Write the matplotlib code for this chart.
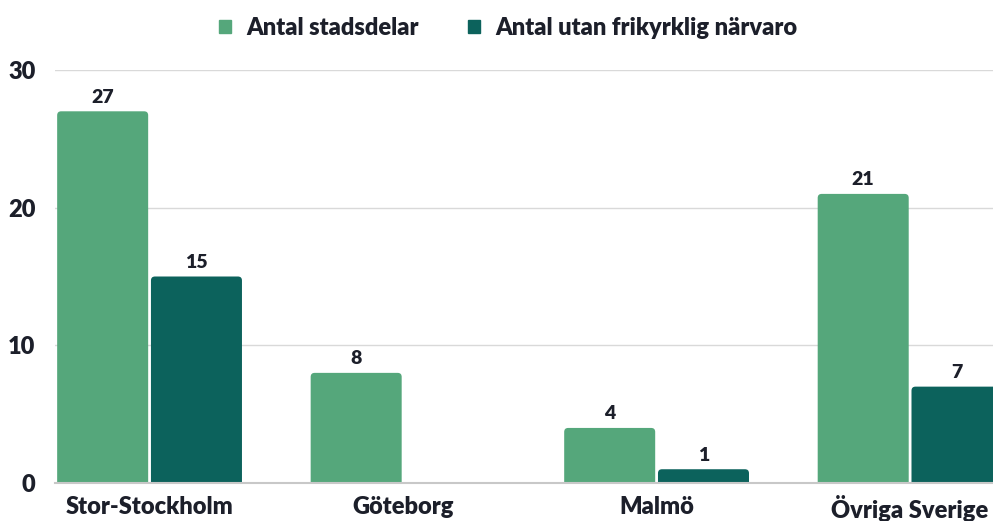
import numpy as np
import matplotlib.pyplot as plt
from matplotlib.patches import Patch, FancyBboxPatch

plt.rcParams["font.family"] = ["Lato", "DejaVu Sans"]
plt.rcParams["font.weight"] = "heavy"

regions = ["Stor-Stockholm", "Göteborg", "Malmö", "Övriga Sverige"]
antal_stadsdelar = [27, 8, 4, 21]
utan_frikyrka = [15, 0, 1, 7]
series_labels = ["Antal stadsdelar", "Antal utan frikyrklig närvaro"]
colors = ["#55a77b", "#0c625c"]
text_color = "#1c1f2a"
wt = "heavy"

fig = plt.figure(figsize=(9.93, 5.21), dpi=100)
ax = fig.add_axes([55 / 993, 38 / 521, 1 - 55 / 993, (483 - 70) / 521])

x = np.arange(len(regions))
w = 0.359
off = 0.185
# rounded tops: radius ~4px, x unit ~253.5px, y unit ~13.77px
rx = 4 / 253.5
aspect = (4 / 13.77) / rx
for vals, sign, c in zip([antal_stadsdelar, utan_frikyrka], [-1, 1], colors):
    for xi, v in zip(x, vals):
        if v == 0:
            continue
        x0 = xi + sign * off - w / 2
        ax.add_patch(FancyBboxPatch((x0, -1), w, v + 1,
                                    boxstyle=f"round,pad=0,rounding_size={rx}",
                                    mutation_aspect=aspect, fc=c, ec="none",
                                    zorder=3))
        ax.text(xi + sign * off, v + 0.4, str(v),
                ha="center", va="bottom", fontsize=14, fontweight=wt,
                color=text_color)

ax.set_xlim(-0.373, 3.327)
ax.set_ylim(0, 30)
ax.set_yticks([0, 10, 20, 30])
ax.yaxis.grid(True, color="#d9d9d9", lw=1, zorder=0)
ax.set_axisbelow(True)
for s in ["top", "right", "left"]:
    ax.spines[s].set_visible(False)
ax.spines["bottom"].set_color("#c8c8c8")
ax.spines["bottom"].set_linewidth(1.5)
ax.spines["bottom"].set_zorder(4)
ax.tick_params(length=0, labelsize=17, colors=text_color)
ax.tick_params(axis="y", pad=14)
ax.tick_params(axis="x", pad=9)
ax.set_xticks(x, labels=regions)
for lab in ax.get_xticklabels() + ax.get_yticklabels():
    lab.set_fontweight(wt)

handles = [Patch(color=c, label=l) for c, l in zip(colors, series_labels)]
leg = fig.legend(handles=handles, loc="center", bbox_to_anchor=(0.512, 0.947),
                 ncol=2, frameon=False, fontsize=17, handlelength=0.5,
                 handleheight=0.5, columnspacing=2.1, handletextpad=0.65)
for t in leg.get_texts():
    t.set_color(text_color)
    t.set_fontweight(wt)

fig.savefig("out.png", dpi=100)
